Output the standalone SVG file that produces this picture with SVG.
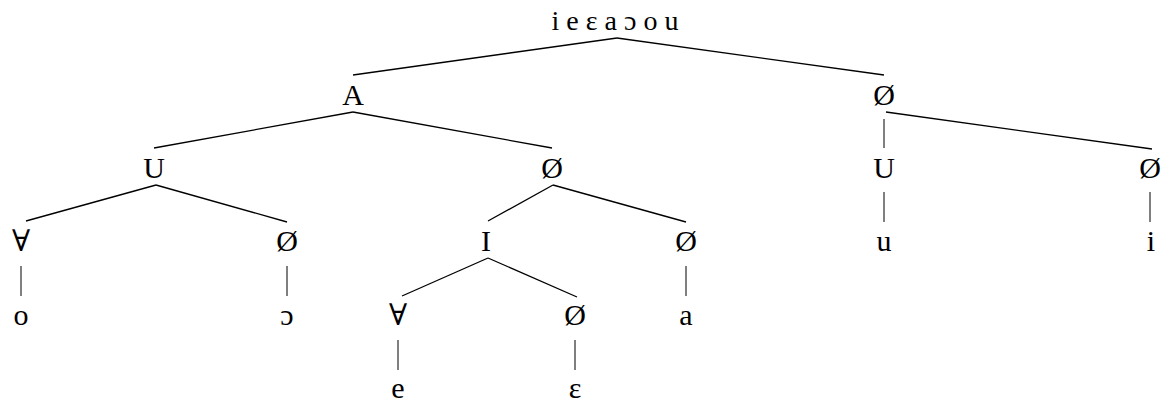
<svg xmlns="http://www.w3.org/2000/svg" width="1163" height="402" viewBox="0 0 1163 402">
<style>
text{font-family:"Liberation Serif","DejaVu Serif",serif;font-size:30px;fill:#000;text-anchor:middle}
#root text{font-size:28px}
.e line{stroke:#000;stroke-width:1.3}
.e line.v{stroke-width:1}
</style>
<rect width="1163" height="402" fill="#fff"/>
<g class="e" id="connectors">
<line x1="617" y1="38" x2="353" y2="75"/>
<line x1="617" y1="38" x2="884" y2="75"/>
<line x1="353" y1="112" x2="154" y2="148"/>
<line x1="353" y1="112" x2="552" y2="148"/>
<line x1="886" y1="112" x2="1152" y2="149"/>
<line class="v" x1="884" y1="119" x2="884" y2="148"/>
<line x1="156" y1="185" x2="26" y2="221"/>
<line x1="156" y1="185" x2="287" y2="222"/>
<line x1="553" y1="185" x2="488" y2="221"/>
<line x1="553" y1="185" x2="686" y2="222"/>
<line class="v" x1="884" y1="192" x2="884" y2="222"/>
<line class="v" x1="1150" y1="192" x2="1150" y2="222"/>
<line class="v" x1="21" y1="266" x2="21" y2="296"/>
<line class="v" x1="287" y1="266" x2="287" y2="296"/>
<line x1="488" y1="258" x2="402" y2="296"/>
<line x1="488" y1="258" x2="577" y2="297"/>
<line class="v" x1="686" y1="266" x2="686" y2="296"/>
<line class="v" x1="398" y1="340" x2="398" y2="370"/>
<line class="v" x1="575" y1="340" x2="575" y2="370"/>
</g>
<g id="root"><text x="615" y="30">i e ɛ a ɔ o u</text></g>
<g id="nA"><text x="353" y="105">A</text></g>
<g id="nO1"><text x="884" y="105">Ø</text></g>
<g id="nU1"><text x="154" y="178">U</text></g>
<g id="nO2"><text x="552" y="178">Ø</text></g>
<g id="nU2"><text x="884" y="178">U</text></g>
<g id="nO3"><text x="1150" y="178">Ø</text></g>
<g id="nV1"><text x="21" y="251">∀</text></g>
<g id="nO4"><text x="287" y="251">Ø</text></g>
<g id="nI"><text x="486" y="251">I</text></g>
<g id="nO5"><text x="686" y="251">Ø</text></g>
<g id="nu"><text x="884" y="251">u</text></g>
<g id="ni"><text x="1151" y="251">i</text></g>
<g id="no"><text x="21" y="325">o</text></g>
<g id="nopen"><text x="287" y="325">ɔ</text></g>
<g id="nV2"><text x="398" y="325">∀</text></g>
<g id="nO6"><text x="575" y="325">Ø</text></g>
<g id="na"><text x="686" y="325">a</text></g>
<g id="ne"><text x="398" y="398">e</text></g>
<g id="neps"><text x="575" y="398">ɛ</text></g>
</svg>
